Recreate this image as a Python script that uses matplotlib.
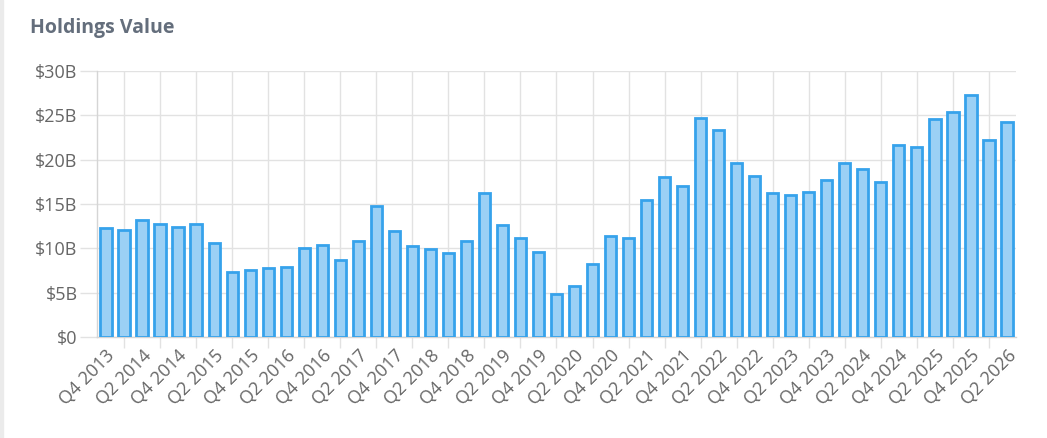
import numpy as np
import matplotlib
matplotlib.use('Agg')
import matplotlib.pyplot as plt
from matplotlib.patches import Rectangle

# Trimestres de Q4 2013 até Q2 2026
trimestres = ['Q4 2013'] + [f'Q{q} {a}' for a in range(2014, 2026) for q in range(1, 5)] + ['Q1 2026', 'Q2 2026']

# Valores (bilhões de US$)
valores = [
    12.3, 12.1, 13.2, 12.7, 12.4, 12.7, 10.6, 7.3, 7.6, 7.8,
    7.9, 10.0, 10.4, 8.7, 10.8, 14.8, 12.0, 10.3, 9.9, 9.5,
    10.8, 16.2, 12.6, 11.2, 9.6, 4.9, 5.8, 8.2, 11.4, 11.2,
    15.4, 18.1, 17.0, 24.7, 23.4, 19.6, 18.2, 16.2, 16.0, 16.4,
    17.7, 19.6, 19.0, 17.5, 21.7, 21.4, 24.6, 25.4, 27.3, 22.2,
    24.3,
]

y_ticks = [0, 5, 10, 15, 20, 25, 30]
y_labels = ['$0', '$5B', '$10B', '$15B', '$20B', '$25B', '$30B']

cor_borda = '#36A2EB'
cor_preench = '#9BD0F5'
cor_grade = '#E2E2E2'
cor_texto = '#666666'

plt.rcParams['font.family'] = ['Open Sans', 'DejaVu Sans']

fig = plt.figure(figsize=(10.47, 4.38), dpi=100)
fig.patches.append(Rectangle((0, 0), 0.003, 1, transform=fig.transFigure,
                             color='#EBEBEB', zorder=0))
ax = fig.add_axes([0.0926, 0.2306, 0.8778, 0.6073])

x = np.arange(len(valores))
ax.bar(x, valores, width=0.62, color=cor_preench, edgecolor=cor_borda,
       linewidth=2, zorder=3)

ax.set_xlim(-0.5, len(valores) - 0.5)
ax.set_ylim(0, 30)

# Rótulos a cada 2 trimestres; grade vertical nos trimestres intermediários
ax.set_xticks(x[::2])
ax.set_xticklabels(trimestres[::2], rotation=45, ha='right', rotation_mode='anchor')
ax.set_xticks(x[1::2], minor=True)
ax.tick_params(axis='x', which='major', length=0, pad=7, labelsize=13, labelcolor=cor_texto)
ax.tick_params(axis='x', which='minor', length=8, color=cor_grade, width=1)

ax.set_yticks(y_ticks)
ax.set_yticklabels(y_labels)
ax.tick_params(axis='y', length=12, color=cor_grade, width=1, pad=2,
               labelsize=13, labelcolor=cor_texto)

ax.grid(True, axis='y', color=cor_grade, linewidth=1, zorder=0)
ax.grid(True, axis='x', which='minor', color=cor_grade, linewidth=1, zorder=0)
ax.set_axisbelow(True)

for lado in ['top', 'right']:
    ax.spines[lado].set_visible(False)
for lado in ['left', 'bottom']:
    ax.spines[lado].set_color('#D5D5D5')
    ax.spines[lado].set_linewidth(1)

fig.text(30 / 1047, 1 - 28 / 438, 'Holdings Value', fontsize=14, fontweight='bold',
         color='#646E7C', va='center', ha='left')

fig.savefig('out.png', dpi=100, facecolor='white')
